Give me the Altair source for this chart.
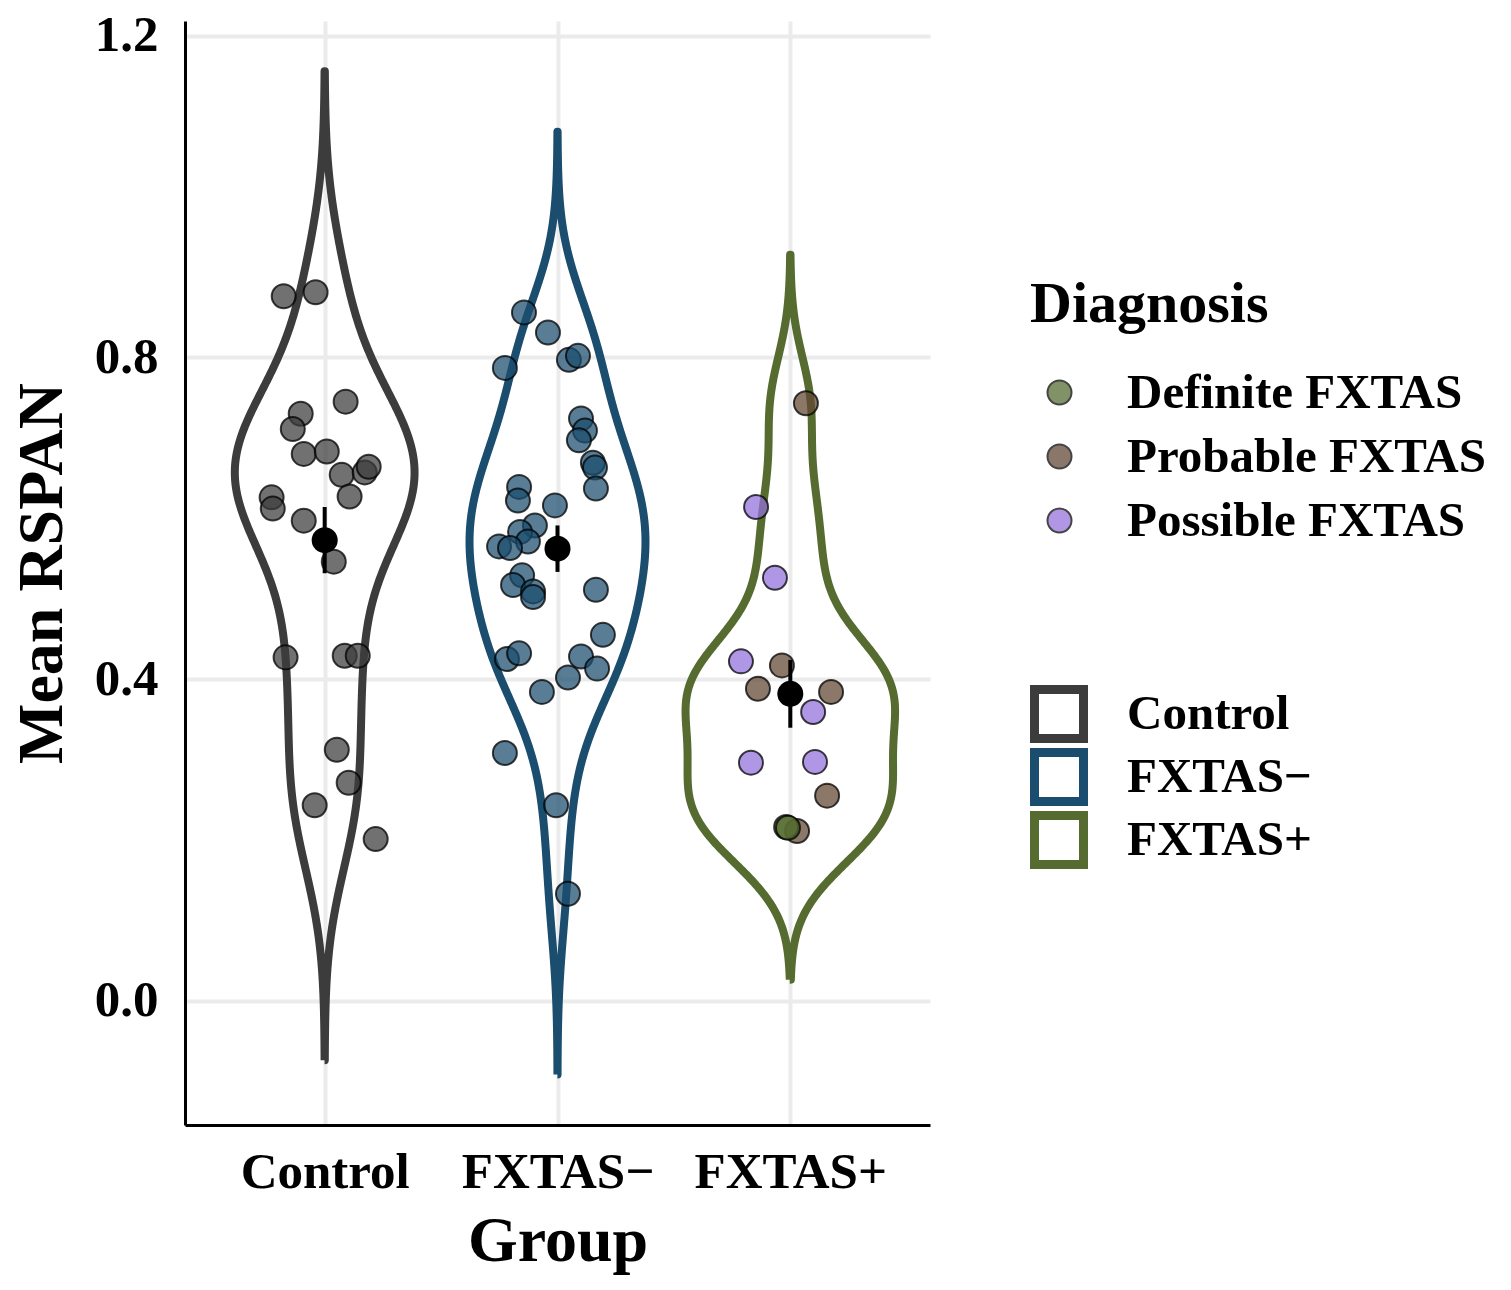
import numpy as np
import pandas as pd
import altair as alt

# ---------------- data ----------------
groups = ["Control", "FXTAS\u2212", "FXTAS+"]
group_colors = ["#3c3c3c", "#1a4d6e", "#556b2f"]
diagnoses = ["Definite FXTAS", "Probable FXTAS", "Possible FXTAS"]
diag_colors = ["#556b2f", "#614632", "#9370db"]

control_values = [0.876, 0.881, 0.745, 0.730, 0.711, 0.680, 0.683, 0.654, 0.657, 0.664,
                  0.627, 0.626, 0.612, 0.597, 0.546, 0.427, 0.429, 0.429, 0.312, 0.271,
                  0.243, 0.201]
control_jitter = [-0.176, -0.039, 0.090, -0.103, -0.137, -0.090, 0.009, 0.073, 0.172, 0.189,
                  0.107, -0.228, -0.223, -0.090, 0.039, -0.168, 0.086, 0.142, 0.052, 0.103,
                  -0.043, 0.219]

fxtas_neg_values = [0.856, 0.831, 0.797, 0.802, 0.787, 0.724, 0.709, 0.697, 0.669, 0.663,
                    0.637, 0.639, 0.622, 0.616, 0.591, 0.583, 0.571, 0.565, 0.563, 0.529,
                    0.517, 0.509, 0.502, 0.511, 0.455, 0.425, 0.432, 0.428, 0.413, 0.402,
                    0.384, 0.308, 0.243, 0.133]
fxtas_neg_jitter = [-0.144, -0.041, 0.049, 0.088, -0.226, 0.101, 0.118, 0.092, 0.152, 0.161,
                    0.165, -0.165, -0.170, -0.011, -0.097, -0.161, -0.127, -0.251, -0.204, -0.152,
                    -0.191, -0.105, -0.105, 0.165, 0.195, -0.217, -0.165, 0.101, 0.170, 0.045,
                    -0.067, -0.226, -0.006, 0.045]

fxtas_pos_values = [0.743, 0.614, 0.526, 0.422, 0.417, 0.388, 0.384, 0.359, 0.296, 0.297,
                    0.255, 0.211, 0.216, 0.215]
fxtas_pos_jitter = [0.067, -0.147, -0.066, -0.212, -0.036, -0.139, 0.175, 0.098, -0.169, 0.106,
                    0.158, 0.029, -0.018, -0.010]
fxtas_pos_diagnosis = ["Probable FXTAS", "Possible FXTAS", "Possible FXTAS", "Possible FXTAS",
                       "Probable FXTAS", "Probable FXTAS", "Probable FXTAS", "Possible FXTAS",
                       "Possible FXTAS", "Possible FXTAS", "Probable FXTAS", "Probable FXTAS",
                       "Definite FXTAS", "Definite FXTAS"]

y_ticks = [0.0, 0.4, 0.8, 1.2]

# ---------------- tables built from the arrays ----------------
group_values = [control_values, fxtas_neg_values, fxtas_pos_values]
group_jitter = [control_jitter, fxtas_neg_jitter, fxtas_pos_jitter]

rows = []
for gi, (g, vals, jit) in enumerate(zip(groups, group_values, group_jitter), start=1):
    for k, (v, j) in enumerate(zip(vals, jit)):
        cat = fxtas_pos_diagnosis[k] if g == "FXTAS+" else g
        rows.append({"group": g, "gidx": gi, "xpos": gi + j, "value": v, "cat": cat, "ord": len(rows)})
pts = pd.DataFrame(rows)


def nrd0(x):
    x = np.asarray(x)
    sd = np.std(x, ddof=1)
    iqr = np.subtract(*np.percentile(x, [75, 25])) / 1.34
    lo = min(sd, iqr) if iqr > 0 else sd
    return 0.9 * lo * len(x) ** (-0.2)


dens = []
for gi, (g, vals) in enumerate(zip(groups, group_values), start=1):
    x = np.asarray(vals)
    bw = nrd0(x)
    grid = np.linspace(x.min() - 3 * bw, x.max() + 3 * bw, 512)
    d = np.exp(-0.5 * ((grid[:, None] - x[None, :]) / bw) ** 2).sum(axis=1) / (len(x) * bw * np.sqrt(2 * np.pi))
    dens.append((g, gi, grid, d))
dmax = max(d.max() for _, _, _, d in dens)

vrows = []
for g, gi, grid, d in dens:
    hw = 0.45 * d / dmax
    xs = np.concatenate([gi - hw, (gi + hw)[::-1], [gi - hw[0]]])
    ys = np.concatenate([grid, grid[::-1], [grid[0]]])
    for k, (a, b) in enumerate(zip(xs, ys)):
        vrows.append({"group": g, "x": float(a), "y": float(b), "ord": k})
vdf = pd.DataFrame(vrows)

# ---------------- chart ----------------
FONT = "Liberation Serif"
xscale = alt.Scale(domain=[0.4, 3.6], nice=False, zero=False)
yscale = alt.Scale(domain=[-0.1546, 1.2184], nice=False, zero=False)

label_expr = " : ".join(
    [f"datum.value == {i} ? '{g}'" for i, g in enumerate(groups[:-1], start=1)] + [f"'{groups[-1]}'"]
)
xaxis = alt.Axis(title="Group", values=[1, 2, 3], labelExpr=label_expr, labelPadding=22,
                 titlePadding=12, labelFontSize=51, titleFontSize=64, labelLimit=0)
yaxis = alt.Axis(title="Mean RSPAN", values=y_ticks, format=".1f", labelPadding=27,
                 titlePadding=20, labelFontSize=51, titleFontSize=64, labelLimit=0)


def X(field):
    return alt.X(field, type="quantitative", scale=xscale, axis=xaxis)


def Y(field):
    return alt.Y(field, type="quantitative", scale=yscale, axis=yaxis)


violin = alt.Chart(vdf).mark_line(strokeWidth=8, strokeJoin="round").encode(
    x=X("x"),
    y=Y("y"),
    stroke=alt.Stroke(
        "group:N",
        scale=alt.Scale(domain=groups, range=group_colors),
        legend=alt.Legend(
            title=None, orient="none", legendX=845, legendY=664,
            symbolType="square", symbolSize=2401, symbolStrokeWidth=9,
            symbolFillColor="white", labelFontSize=49, labelOffset=39,
            rowPadding=5, clipHeight=58,
        ),
    ),
    detail="group:N",
    order="ord:Q",
)

points = alt.Chart(pts).mark_circle(
    size=576, fillOpacity=0.73, stroke="black", strokeOpacity=0.75, strokeWidth=2, opacity=1
).encode(
    x=X("xpos"),
    y=Y("value"),
    fill=alt.Fill(
        "cat:N",
        scale=alt.Scale(domain=diagnoses + groups[:2], range=diag_colors + group_colors[:2]),
        legend=alt.Legend(
            title="Diagnosis", values=diagnoses, orient="none", legendX=845, legendY=255,
            symbolType="circle", symbolSize=576, symbolStrokeColor="black", symbolStrokeWidth=2,
            symbolOpacity=0.73, symbolOffset=5, labelOffset=43, rowPadding=14, titlePadding=34,
            titleFontSize=58, labelFontSize=49, titleLimit=0,
        ),
    ),
    order="ord:Q",
)

stats = alt.Chart(pts).transform_aggregate(
    m="mean(value)", se="stderr(value)", groupby=["gidx"]
).transform_calculate(lo="datum.m - datum.se", hi="datum.m + datum.se")

rule = stats.mark_rule(color="black", strokeWidth=4).encode(x=X("gidx"), y=Y("lo"), y2="hi:Q")
mean_pt = stats.mark_circle(color="black", opacity=1, size=676).encode(x=X("gidx"), y=Y("m"))

chart = alt.layer(violin, points, rule, mean_pt).resolve_legend(fill="independent", stroke="independent").properties(
    width=745, height=1104,
    autosize=alt.AutoSizeParams(type="none"),
    padding={"left": 177, "top": 13, "right": 568, "bottom": 150},
).configure_view(stroke=None).configure_axis(
    labelFont=FONT, titleFont=FONT, labelFontWeight="bold", titleFontWeight="bold",
    labelColor="black", titleColor="black", domainColor="black", domainWidth=3,
    ticks=False, grid=True, gridColor="#ebebeb", gridWidth=4,
).configure_legend(
    labelFont=FONT, titleFont=FONT, labelFontWeight="bold", titleFontWeight="bold",
    labelColor="black", titleColor="black", labelLimit=0, titleLimit=0, padding=0,
)

chart.save("out.html", embed_options={"renderer": "svg", "actions": False})
